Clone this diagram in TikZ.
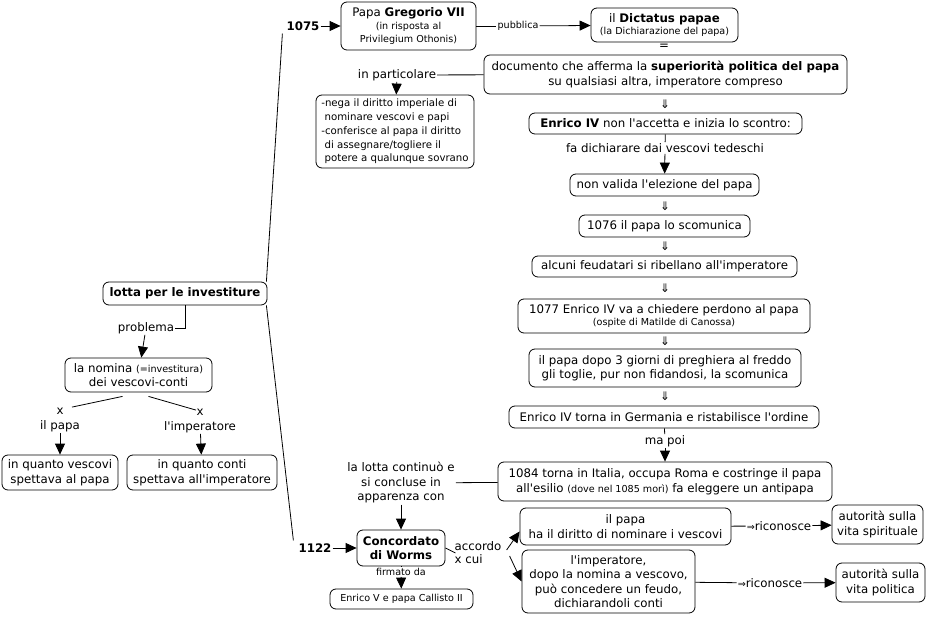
\documentclass[tikz,border=0pt]{standalone}
\usepackage{fontspec}
\setmainfont{DejaVu Sans}[Ligatures=TeXOff]
\usetikzlibrary{arrows.meta}
\newcommand\mf{\fontsize{11.8}{14.5}\selectfont}
\newcommand\sm{\fontsize{9.6}{12}\selectfont}
\newcommand\nf{\fontsize{10.2}{13.7}\selectfont}
\tikzset{
  cbox/.style={draw, rounded corners=6pt, line width=0.8pt, align=center, inner sep=1pt, font=\mf},
  sz/.style 2 args={minimum width=#1, minimum height=#2},
  lbl/.style={align=center, inner sep=1pt, font=\mf},
  arr/.style={-{Triangle[width=10pt,length=11pt]}, line width=0.8pt},
  ln/.style={line width=0.8pt}
}
\begin{document}
\begin{tikzpicture}[x=1pt,y=-1pt]
\useasboundingbox (0,0) rectangle (929,617);
\fill[white] (0,0) rectangle (929,617);
% boxes
\node[cbox, sz={135}{48}] (greg) at (408.5,26) {Papa \textbf{Gregorio VII}\\[-1pt]{\sm (in risposta al}\\[-2pt]{\sm Privilegium Othonis)}};
\node[cbox, sz={147}{34}] (dict) at (664.5,25) {il \textbf{Dictatus papae}\\[-2pt]{\sm (la Dichiarazione del papa)}};
\node[cbox, sz={363}{39}] (doc) at (665.5,74.5) {documento che afferma la \textbf{superiorità politica del papa}\\su qualsiasi altra, imperatore compreso};
\node[cbox, sz={158}{73}, align=left, font=\nf] (nega) at (395,131.5) {-nega il diritto imperiale di\\\ nominare vescovi e papi\\-conferisce al papa il diritto\\\ di assegnare/togliere il\\\ potere a qualunque sovrano};
\node[cbox, sz={273}{21}] (enr) at (665.5,123.5) {\textbf{Enrico IV} non l'accetta e inizia lo scontro:};
\node[cbox, sz={189}{22}] (nonval) at (664.5,185) {non valida l'elezione del papa};
\node[cbox, sz={171}{22}] (s1076) at (664.5,226) {1076 il papa lo scomunica};
\node[cbox, sz={265}{21}] (feud) at (664.5,266.5) {alcuni feudatari si ribellano all'imperatore};
\node[cbox, sz={292}{34}] (s1077) at (664,316) {1077 Enrico IV va a chiedere perdono al papa\\[-2pt]{\sm (ospite di Matilde di Canossa)}};
\node[cbox, sz={272}{38}] (tre) at (665,368) {il papa dopo 3 giorni di preghiera al freddo\\gli toglie, pur non fidandosi, la scomunica};
\node[cbox, sz={310}{22}] (germ) at (664,417) {Enrico IV torna in Germania e ristabilisce l'ordine};
\node[cbox, sz={334}{39}] (s1084) at (665,481.5) {1084 torna in Italia, occupa Roma e costringe il papa\\all'esilio {\sm (dove nel 1085 morì)} fa eleggere un antipapa};
\node[cbox, sz={88}{36}] (worms) at (401,548) {\textbf{Concordato}\\\textbf{di Worms}};
\node[cbox, sz={143}{20}, font=\sm] (enrV) at (401.5,599) {Enrico V e papa Callisto II};
\node[cbox, sz={211}{37}] (papa2) at (625.5,526.5) {il papa\\ha il diritto di nominare i vescovi};
\node[cbox, sz={91}{39}] (spir) at (877.5,524.5) {autorità sulla\\vita spirituale};
\node[cbox, sz={173}{63}] (imp2) at (608.5,581.5) {l'imperatore,\\dopo la nomina a vescovo,\\può concedere un feudo,\\dichiarandoli conti};
\node[cbox, sz={89}{39}] (pol) at (880.5,582.5) {autorità sulla\\vita politica};
\node[cbox, sz={164}{23}] (lotta) at (185,293.5) {\textbf{lotta per le investiture}};
\node[cbox, sz={147}{34}] (nomina) at (138.5,375) {la nomina {\sm (=investitura)}\\dei vescovi-conti};
\node[cbox, sz={116}{35}] (vesc) at (60,472.5) {in quanto vescovi\\spettava al papa};
\node[cbox, sz={150}{35}] (conti) at (202,472.5) {in quanto conti\\spettava all'imperatore};
% labels
\node[lbl] (y1075) at (303,26) {\textbf{1075}};
\node[lbl, font=\sm] (pubb) at (518,26) {pubblica};
\node[lbl] (eq) at (664,47) {=};
\node[lbl] (inpart) at (397,75) {in particolare};
\node[lbl] (d1) at (665,104) {⇓};
\node[lbl] (fadich) at (665,148) {fa dichiarare dai vescovi tedeschi};
\node[lbl] (d2) at (665,206) {⇓};
\node[lbl] (d3) at (665,246) {⇓};
\node[lbl] (d4) at (665,288) {⇓};
\node[lbl] (d5) at (665,341) {⇓};
\node[lbl] (d6) at (665,396) {⇓};
\node[lbl] (mapoi) at (665,441) {ma poi};
\node[lbl] (lotta2) at (401,483) {la lotta continuò e\\si concluse in\\apparenza con};
\node[lbl] (y1122) at (315,548) {\textbf{1122}};
\node[lbl, font=\sm] (firm) at (401,572) {firmato da};
\node[lbl, align=left, font=\fontsize{11.8}{13}\selectfont] (accordo) at (478,553) {accordo\\x cui};
\node[lbl] (ric1) at (779,526) {{\sm⇒}riconosce};
\node[lbl] (ric2) at (770,583) {{\sm⇒}riconosce};
\node[lbl] (prob) at (146,328) {problema};
\node[lbl] (xpapa) at (60,420) {x\\il papa};
\node[lbl] (ximp) at (200,421) {x\\l'imperatore};
% connectors
\draw[ln] ([xshift=-1pt]lotta.north east) -- ([xshift=-3pt,yshift=-2pt]y1075.south west);
\draw[ln] ([xshift=-1pt]lotta.south east) -- ([xshift=-4pt,yshift=2pt]y1122.north west);
\draw[arr] (y1075) -- (greg);
\draw[ln] (greg) -- (pubb);
\draw[arr] (pubb) -- (dict);
\draw[ln] (doc) -- (inpart);
\draw[arr] (inpart) -- (nega);
\draw[ln] (enr) -- (fadich);
\draw[arr] (fadich) -- (nonval);
\draw[ln] (germ) -- (mapoi);
\draw[arr] (mapoi) -- (s1084);
\draw[ln] (s1084) -- (lotta2);
\draw[arr] (lotta2) -- (worms);
\draw[arr] (y1122) -- (worms);
\draw[ln] (worms) -- (firm);
\draw[arr] (firm) -- (enrV);
\draw[ln] (worms.east) -- ([xshift=2pt]accordo.west);
\draw[arr] ([xshift=4pt,yshift=3pt]accordo.east) -- ([yshift=-5pt]papa2.west);
\draw[arr] ([xshift=7pt,yshift=-3pt]accordo.east) -- (imp2.west);
\draw[ln] (papa2) -- (ric1);
\draw[arr] (ric1) -- (spir);
\draw[ln] (imp2) -- (ric2);
\draw[arr] (ric2) -- (pol);
\draw[ln] (lotta.south) |- (prob.east);
\draw[arr] (prob) -- (nomina);
\draw[ln] ([xshift=-16pt,yshift=-4pt]nomina.south) -- ([xshift=12pt]xpapa.north);
\draw[ln] ([xshift=10pt,yshift=-4pt]nomina.south) -- ([xshift=-4pt,yshift=-2pt]ximp.north);
\draw[arr] (xpapa) -- (vesc);
\draw[arr] (ximp) -- (conti);
\end{tikzpicture}
\end{document}
